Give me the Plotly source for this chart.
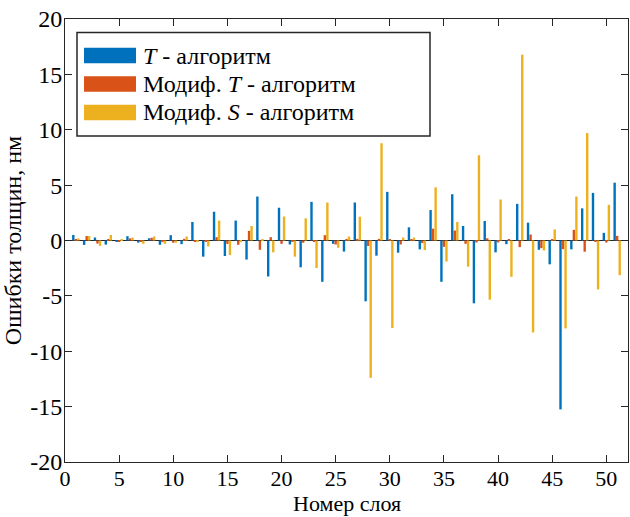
import plotly.graph_objects as go

# Layer numbers and thickness errors (nm) for each algorithm
layers = list(range(1, 52))

err_T = [0.5, -0.4, 0.27, -0.37, -0.1, 0.39, -0.19, 0.2, -0.39, 0.48,
         -0.33, 1.67, -1.46, 2.6, -1.4, 1.8, -1.72, 3.97, -3.25, 2.96,
         -0.36, -2.42, 3.49, -3.73, -0.3, -1.0, 3.43, -5.49, -1.37, 4.39,
         -1.1, 1.19, -0.8, 2.75, -3.73, 4.18, 1.31, -5.67, 1.76, -1.07,
         -0.33, 3.31, 1.61, -0.84, -2.15, -15.25, -0.8, 2.9, 4.3, 0.69, 5.22]

err_mod_T = [0.06, 0.4, -0.28, 0.1, -0.05, 0.2, -0.11, 0.25, -0.15, -0.2,
             0.15, -0.12, -0.11, 0.3, -0.31, -0.39, 0.87, -0.84, 0.3, -0.3,
             -0.1, -0.2, -0.05, 0.48, -0.36, 0.12, 0.15, -0.5, 0.15, 0.1,
             -0.36, 0.1, -0.24, 1.07, -0.57, 0.9, -0.3, -0.18, 0.2, -0.18,
             0.06, -0.6, 0.54, -0.69, 0.1, -0.78, 0.96, -1.01, -0.05, -0.18, 0.42]

err_mod_S = [0.19, 0.4, -0.49, 0.5, 0.1, 0.27, -0.3, 0.36, -0.3, -0.2,
             0.36, -0.15, -0.54, 1.8, -1.31, -0.12, 1.31, 0.12, -1.07, 2.17,
             -1.46, 2.0, -2.48, 3.43, -0.66, 0.36, 2.15, -12.4, 8.78, -7.9,
             0.27, 0.27, -0.87, 4.8, -1.9, 1.67, -2.36, 7.7, -5.34, 3.7,
             -3.28, 16.78, -8.3, -0.9, 1.0, -7.94, 3.97, 9.7, -4.42, 3.22, -3.13]

series_names = ["<i>T</i> - алгоритм",
                "Модиф. <i>T</i> - алгоритм",
                "Модиф. <i>S</i> - алгоритм"]
series_values = [err_T, err_mod_T, err_mod_S]
colors = ["#0072BD", "#D95319", "#EDB120"]

x_ticks = [0, 5, 10, 15, 20, 25, 30, 35, 40, 45, 50]
y_ticks = [-20, -15, -10, -5, 0, 5, 10, 15, 20]
y_tick_text = ["-20", "-15", "-10", "-5", "0", "5", "10", "15", "20"]

FONT = "Liberation Serif"
FS = 24
AX = "#262626"
W, H = 630, 517
ML, MR, MT, MB = 65, 2, 19, 55

fig = go.Figure()
for name, vals, col in zip(series_names, series_values, colors):
    fig.add_trace(go.Bar(x=layers, y=vals, name=name,
                         marker=dict(color=col, line=dict(width=0)),
                         showlegend=False))

# pixel -> paper helpers for the hand-drawn legend
pw = W - ML - MR
ph = H - MT - MB
def px(x):
    return (x - ML) / pw
def py(y):
    return (H - MB - y) / ph

shapes = [dict(type="rect", xref="paper", yref="paper",
               x0=px(77), x1=px(430), y0=py(32.5), y1=py(136),
               line=dict(color=AX, width=1.5), fillcolor="white", layer="above")]
annotations = []
row_y = [55.5, 84, 112.5]
for name, col, yc in zip(series_names, colors, row_y):
    shapes.append(dict(type="rect", xref="paper", yref="paper",
                       x0=px(84), x1=px(136), y0=py(yc + 7.8), y1=py(yc - 7.8),
                       line=dict(width=0), fillcolor=col, layer="above"))
    annotations.append(dict(xref="paper", yref="paper", x=px(141), y=py(yc),
                            xanchor="left", yanchor="middle", text=name,
                            showarrow=False,
                            font=dict(family=FONT, size=FS, color="black")))

# x-axis title placed at the bottom edge, under the tick labels
annotations.append(dict(xref="paper", yref="paper", x=0.5, y=py(517),
                        xanchor="center", yanchor="bottom",
                        text="Номер слоя", showarrow=False, borderpad=0,
                        font=dict(family=FONT, size=22, color="black")))

fig.update_layout(
    width=W, height=H,
    margin=dict(l=ML, r=MR, t=MT, b=MB),
    paper_bgcolor="white", plot_bgcolor="white",
    barmode="group", bargap=0.3, bargroupgap=0.05,
    font=dict(family=FONT, size=FS, color="black"),
    shapes=shapes, annotations=annotations,
    xaxis=dict(range=[0, 52], tickvals=x_ticks, ticks="inside", ticklen=7,
               tickfont=dict(family=FONT, size=22), ticklabelstandoff=-3,
               tickcolor=AX, showline=True, linecolor=AX, linewidth=1,
               mirror="ticks", showgrid=False, zeroline=False),
    yaxis=dict(range=[-20, 20], tickvals=y_ticks, ticktext=y_tick_text,
               ticks="inside", ticklen=7, ticklabelstandoff=-3,
               tickcolor=AX, showline=True, linecolor=AX, linewidth=1,
               mirror="ticks", showgrid=False, zeroline=True,
               zerolinecolor=AX, zerolinewidth=1,
               title=dict(text="Ошибки толщин, нм", standoff=4,
                          font=dict(family=FONT, size=FS))),
)

fig.write_html("out.html")
